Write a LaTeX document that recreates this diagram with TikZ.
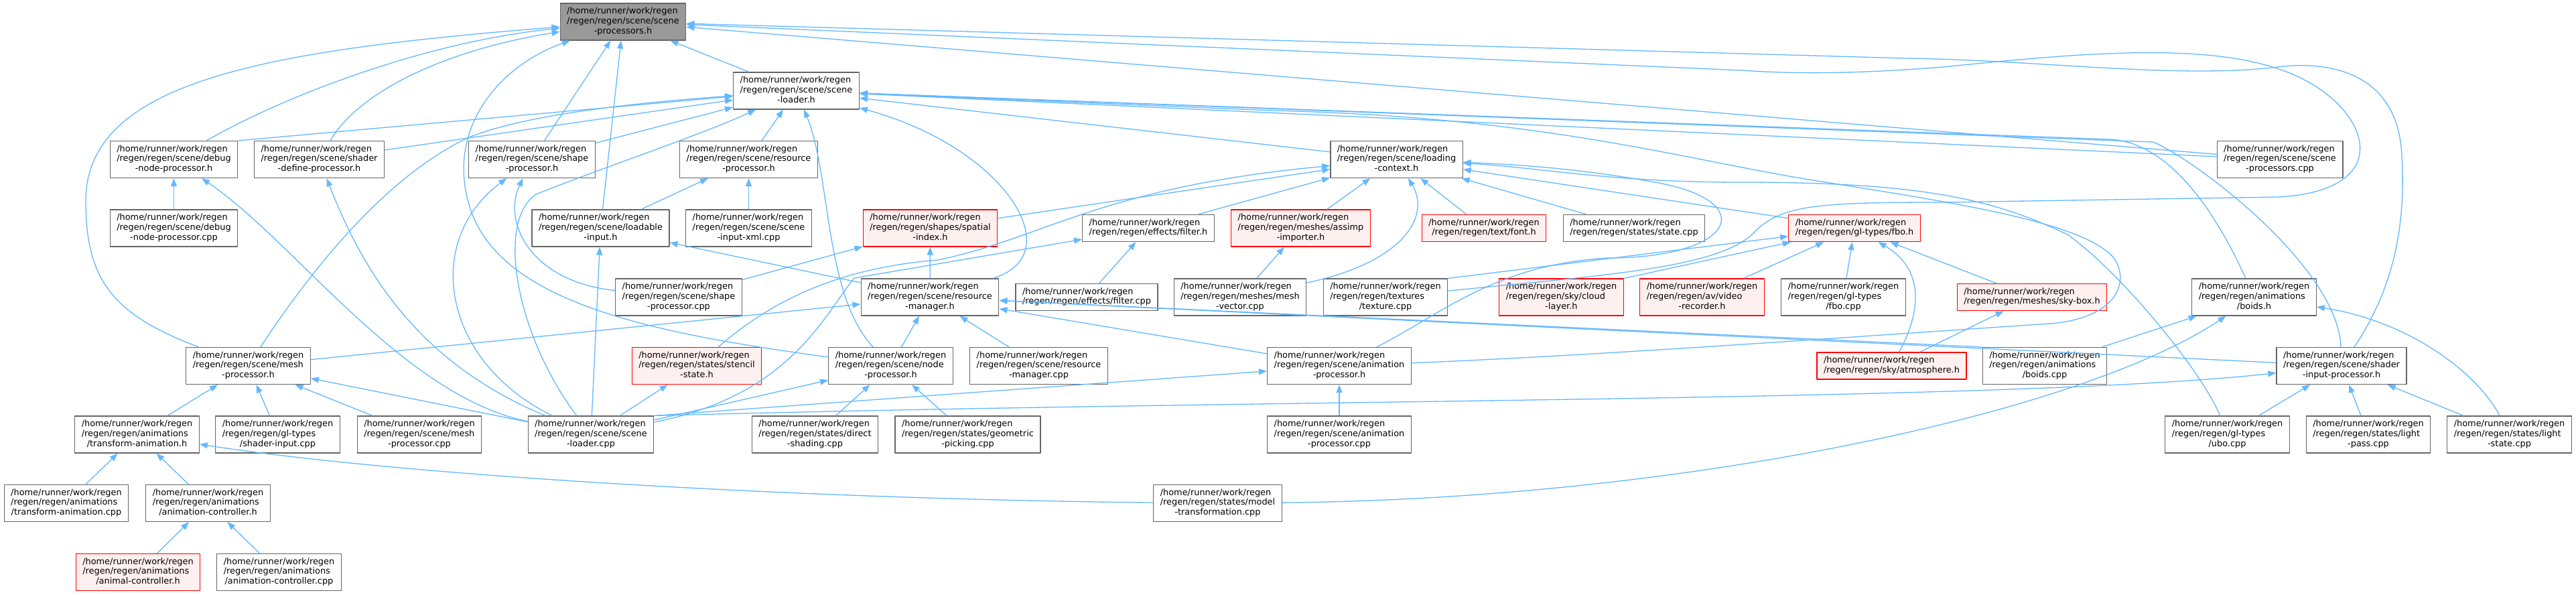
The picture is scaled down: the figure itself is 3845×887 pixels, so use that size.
\documentclass[tikz,border=0pt]{standalone}
\usepackage{fontspec}
\setmainfont{DejaVu Sans}
\usetikzlibrary{arrows.meta}
\definecolor{dgEdge}{HTML}{63B8FF}
\definecolor{dgLine}{HTML}{666666}
\definecolor{dgMain}{HTML}{999999}
\definecolor{dgRed}{HTML}{FF0000}
\definecolor{dgRedFill}{HTML}{FFF0F0}
\newcommand{\fileiii}[2]{\begin{tabular}{@{}l@{}}/home/runner/work/regen\\#1\\\multicolumn{1}{@{}c@{}}{#2}\end{tabular}}
\newcommand{\fileii}[1]{\begin{tabular}{@{}l@{}}/home/runner/work/regen\\\multicolumn{1}{@{}c@{}}{#1}\end{tabular}}
\begin{document}
\begin{tikzpicture}[x=1pt,y=-1pt,line join=round]
\path[fill=white] (0,0) rectangle (3845,887);
\tikzset{filebox/.style={draw=dgLine,fill=white,line width=1.3pt,inner xsep=10pt,inner ysep=5.4pt,font={\fontsize{12.9}{14.7}\selectfont}},redfile/.style={filebox,draw=dgRed,fill=dgRedFill},mainfile/.style={filebox,fill=dgMain},dep/.style={draw=dgEdge,line width=1.3pt,-{Triangle[length=12pt,width=9pt]}}}
\node[mainfile] (main) at (930,32.5) {\fileiii{/regen/regen/scene/scene}{-processors.h}};
\node[filebox] (loaderH) at (1188.5,135.5) {\fileiii{/regen/regen/scene/scene}{-loader.h}};
\node[filebox] (debugH) at (259.5,238) {\fileiii{/regen/regen/scene/debug}{-node-processor.h}};
\node[filebox] (shaderDefH) at (476.5,238) {\fileiii{/regen/regen/scene/shader}{-define-processor.h}};
\node[filebox] (shapeH) at (794,238) {\fileiii{/regen/regen/scene/shape}{-processor.h}};
\node[filebox] (resProcH) at (1117.5,238) {\fileiii{/regen/regen/scene/resource}{-processor.h}};
\node[filebox] (loadCtxH) at (2084.5,238) {\fileiii{/regen/regen/scene/loading}{-context.h}};
\node[filebox] (sceneProcCpp) at (3403,238) {\fileiii{/regen/regen/scene/scene}{-processors.cpp}};
\node[filebox] (debugCpp) at (259.5,340.5) {\fileiii{/regen/regen/scene/debug}{-node-processor.cpp}};
\node[filebox] (loadableH) at (896.5,340.5) {\fileiii{/regen/regen/scene/loadable}{-input.h}};
\node[filebox] (inputXmlCpp) at (1117.5,340.5) {\fileiii{/regen/regen/scene/scene}{-input-xml.cpp}};
\node[redfile] (spatialH) at (1388.5,340.5) {\fileiii{/regen/regen/shapes/spatial}{-index.h}};
\node[filebox] (filterH) at (1714,340.5) {\fileii{/regen/regen/effects/filter.h}};
\node[redfile] (assimpH) at (1941.5,340.5) {\fileiii{/regen/regen/meshes/assimp}{-importer.h}};
\node[redfile] (fontH) at (2215,340.5) {\fileii{/regen/regen/text/font.h}};
\node[filebox] (stateCpp) at (2439,340.5) {\fileii{/regen/regen/states/state.cpp}};
\node[redfile] (fboH) at (2768,340.5) {\fileii{/regen/regen/gl-types/fbo.h}};
\node[filebox] (shapeCpp) at (1013,443.5) {\fileiii{/regen/regen/scene/shape}{-processor.cpp}};
\node[filebox] (resManH) at (1388,443.5) {\fileiii{/regen/regen/scene/resource}{-manager.h}};
\node[filebox] (filterCpp) at (1622,443.5) {\fileii{/regen/regen/effects/filter.cpp}};
\node[filebox] (meshVecCpp) at (1851,443.5) {\fileiii{/regen/regen/meshes/mesh}{-vector.cpp}};
\node[filebox] (textureCpp) at (2068,443.5) {\fileiii{/regen/regen/textures}{/texture.cpp}};
\node[redfile] (cloudH) at (2330.5,443.5) {\fileiii{/regen/regen/sky/cloud}{-layer.h}};
\node[redfile] (videoH) at (2540.5,443.5) {\fileiii{/regen/regen/av/video}{-recorder.h}};
\node[filebox] (fboCpp) at (2751.5,443.5) {\fileiii{/regen/regen/gl-types}{/fbo.cpp}};
\node[redfile] (skyBoxH) at (3033,443.5) {\fileii{/regen/regen/meshes/sky-box.h}};
\node[filebox] (boidsH) at (3364.5,443.5) {\fileiii{/regen/regen/animations}{/boids.h}};
\node[filebox] (meshProcH) at (370.5,546) {\fileiii{/regen/regen/scene/mesh}{-processor.h}};
\node[redfile] (stencilH) at (1040,546) {\fileiii{/regen/regen/states/stencil}{-state.h}};
\node[filebox] (nodeProcH) at (1329.5,546) {\fileiii{/regen/regen/scene/node}{-processor.h}};
\node[filebox] (resManCpp) at (1550.5,546) {\fileiii{/regen/regen/scene/resource}{-manager.cpp}};
\node[filebox] (animProcH) at (1999,546) {\fileiii{/regen/regen/scene/animation}{-processor.h}};
\node[redfile] (atmosH) at (2823.5,546) {\fileii{/regen/regen/sky/atmosphere.h}};
\node[filebox] (boidsCpp) at (3052,546) {\fileiii{/regen/regen/animations}{/boids.cpp}};
\node[filebox] (shaderInProcH) at (3495,546) {\fileiii{/regen/regen/scene/shader}{-input-processor.h}};
\node[filebox] (transAnimH) at (204.5,648.5) {\fileiii{/regen/regen/animations}{/transform-animation.h}};
\node[filebox] (shaderInCpp) at (414.5,648.5) {\fileiii{/regen/regen/gl-types}{/shader-input.cpp}};
\node[filebox] (meshProcCpp) at (626,648.5) {\fileiii{/regen/regen/scene/mesh}{-processor.cpp}};
\node[filebox] (loaderCpp) at (882,648.5) {\fileiii{/regen/regen/scene/scene}{-loader.cpp}};
\node[filebox] (directCpp) at (1216.5,648.5) {\fileiii{/regen/regen/states/direct}{-shading.cpp}};
\node[filebox] (pickingCpp) at (1444.5,648.5) {\fileiii{/regen/regen/states/geometric}{-picking.cpp}};
\node[filebox] (animProcCpp) at (1999,648.5) {\fileiii{/regen/regen/scene/animation}{-processor.cpp}};
\node[filebox] (uboCpp) at (3324.5,648.5) {\fileiii{/regen/regen/gl-types}{/ubo.cpp}};
\node[filebox] (lightPassCpp) at (3535,648.5) {\fileiii{/regen/regen/states/light}{-pass.cpp}};
\node[filebox] (lightStateCpp) at (3745.5,648.5) {\fileiii{/regen/regen/states/light}{-state.cpp}};
\node[filebox] (transAnimCpp) at (99,751) {\fileiii{/regen/regen/animations}{/transform-animation.cpp}};
\node[filebox] (animCtrlH) at (310.5,751) {\fileiii{/regen/regen/animations}{/animation-controller.h}};
\node[filebox] (modelTransCpp) at (1817.5,751) {\fileiii{/regen/regen/states/model}{-transformation.cpp}};
\node[redfile] (animalH) at (206,854) {\fileiii{/regen/regen/animations}{/animal-controller.h}};
\node[filebox] (animCtrlCpp) at (416.5,854) {\fileiii{/regen/regen/animations}{/animation-controller.cpp}};
\draw[dep] (loaderH) -- (main);
\draw[dep] (debugH) .. controls (430,140) and (640,62) .. (main);
\draw[dep] (shaderDefH) .. controls (540,130) and (680,72) .. (main);
\draw[dep] (shapeH) -- (main);
\draw[dep] (loadableH) -- (main);
\draw[dep] (meshProcH) .. controls (170,470) and (128,420) .. (128,300) .. controls (128,120) and (400,75) .. (main);
\draw[dep] (nodeProcH) .. controls (1000,500) and (760,460) .. (705,320) .. controls (660,200) and (740,100) .. (main);
\draw[dep] (shaderInProcH) .. controls (3580,420) and (3590,320) .. (3585,233) .. controls (3580,110) and (3480,90) .. (3400,100) .. controls (3250,118) and (3050,90) .. (2845,87) -- (main);
\draw[dep] (textureCpp) .. controls (2400,410) and (2570,400) .. (2620,345) .. controls (2660,305) and (2720,302) .. (2900,302) -- (3400,294) .. controls (3580,285) and (3540,160) .. (3420,110) .. controls (3300,60) and (3100,80) .. (2900,100) .. controls (2800,108) and (2700,112) .. (2600,105) -- (main);
\draw[dep] (sceneProcCpp) -- (main);
\draw[dep] (debugH.north east) -- (loaderH);
\draw[dep] (shaderDefH) -- (loaderH);
\draw[dep] (shapeH) -- (loaderH);
\draw[dep] (meshProcH) .. controls (440,440) and (560,270) .. (700,205) .. controls (800,165) and (1000,150) .. (loaderH);
\draw[dep] (resProcH) -- (loaderH);
\draw[dep] (nodeProcH) .. controls (1230,440) and (1240,260) .. (loaderH);
\draw[dep] (resManH) .. controls (1600,380) and (1500,220) .. (loaderH);
\draw[dep] (loadCtxH) -- (loaderH);
\draw[dep] (sceneProcCpp) -- (loaderH);
\draw[dep] (boidsH) .. controls (3300,300) and (3230,212) .. (3150,208) -- (loaderH);
\draw[dep] (shaderInProcH) .. controls (3490,400) and (3280,240) .. (3214,212) -- (loaderH);
\draw[dep] (animProcH) .. controls (2400,530) and (2800,500) .. (3060,483) .. controls (3160,475) and (3180,420) .. (3155,385) .. controls (3110,330) and (2900,300) .. (2700,268) .. controls (2500,235) and (2300,175) .. (1900,165) -- (loaderH);
\draw[dep] (loaderCpp) .. controls (770,500) and (740,330) .. (800,290) .. controls (900,250) and (1050,200) .. (loaderH);
\draw[dep] (debugCpp) -- (debugH);
\draw[dep] (loaderCpp) .. controls (600,590) and (440,360) .. (debugH);
\draw[dep] (loaderCpp) .. controls (620,540) and (540,400) .. (shaderDefH);
\draw[dep] (shapeCpp) .. controls (790,420) and (750,330) .. (shapeH);
\draw[dep] (loaderCpp) .. controls (660,540) and (630,360) .. (shapeH);
\draw[dep] (loadableH) -- (resProcH);
\draw[dep] (inputXmlCpp) -- (resProcH);
\draw[dep] (spatialH) -- (loadCtxH);
\draw[dep] (filterH) -- (loadCtxH);
\draw[dep] (assimpH) -- (loadCtxH);
\draw[dep] (fontH) -- (loadCtxH);
\draw[dep] (stateCpp) -- (loadCtxH);
\draw[dep] (fboH) -- (loadCtxH);
\draw[dep] (meshVecCpp) .. controls (2100,390) and (2135,320) .. (loadCtxH);
\draw[dep] (stencilH) .. controls (1150,450) and (1250,400) .. (1400,388) .. controls (1560,355) and (1640,280) .. (loadCtxH);
\draw[dep] (animProcH) .. controls (2150,470) and (2230,395) .. (2400,385) .. controls (2590,385) and (2630,300) .. (2470,272) .. controls (2350,250) and (2250,245) .. (loadCtxH);
\draw[dep] (uboCpp) .. controls (3290,560) and (3170,410) .. (3086,350) .. controls (2980,300) and (2880,272) .. (2600,272) .. controls (2400,272) and (2300,250) .. (loadCtxH);
\draw[dep] (loaderCpp) .. controls (1180,590) and (1230,470) .. (1275,415) -- (filterH);
\draw[dep] (filterCpp) -- (filterH);
\draw[dep] (loaderCpp) -- (loadableH);
\draw[dep] (resManH) -- (loadableH);
\draw[dep] (shapeCpp) -- (spatialH);
\draw[dep] (resManH) -- (spatialH);
\draw[dep] (meshVecCpp) -- (assimpH);
\draw[dep] (textureCpp.north east) -- (fboH);
\draw[dep] (cloudH.north east) -- (fboH);
\draw[dep] (videoH) -- (fboH);
\draw[dep] (fboCpp) -- (fboH);
\draw[dep] (atmosH) .. controls (2870,460) and (2870,400) .. (fboH);
\draw[dep] (skyBoxH) -- (fboH);
\draw[dep] (atmosH) -- (skyBoxH);
\draw[dep] (meshProcH) -- (resManH);
\draw[dep] (nodeProcH) -- (resManH);
\draw[dep] (resManCpp) -- (resManH);
\draw[dep] (animProcH) -- (resManH);
\draw[dep] (boidsCpp.north west) -- (resManH);
\draw[dep] (shaderInProcH) -- (resManH);
\draw[dep] (boidsCpp) -- (boidsH);
\draw[dep] (modelTransCpp) .. controls (2500,745) and (3100,620) .. (boidsH);
\draw[dep] (lightStateCpp) .. controls (3700,560) and (3600,480) .. (boidsH);
\draw[dep] (transAnimH) -- (meshProcH);
\draw[dep] (shaderInCpp) -- (meshProcH);
\draw[dep] (meshProcCpp) -- (meshProcH);
\draw[dep] (loaderCpp) -- (meshProcH);
\draw[dep] (loaderCpp) -- (stencilH);
\draw[dep] (loaderCpp) -- (nodeProcH);
\draw[dep] (directCpp) -- (nodeProcH);
\draw[dep] (pickingCpp) -- (nodeProcH);
\draw[dep] (animProcCpp) -- (animProcH);
\draw[dep] (loaderCpp.north east) -- (animProcH);
\draw[dep] (uboCpp) -- (shaderInProcH);
\draw[dep] (lightPassCpp) -- (shaderInProcH);
\draw[dep] (lightStateCpp) -- (shaderInProcH);
\draw[dep] (loaderCpp.north east) .. controls (1900,595) and (3000,600) .. (shaderInProcH);
\draw[dep] (transAnimCpp) -- (transAnimH);
\draw[dep] (animCtrlH) -- (transAnimH);
\draw[dep] (modelTransCpp) .. controls (1200,745) and (600,710) .. (transAnimH);
\draw[dep] (animalH) -- (animCtrlH);
\draw[dep] (animCtrlCpp) -- (animCtrlH);
\end{tikzpicture}
\end{document}
